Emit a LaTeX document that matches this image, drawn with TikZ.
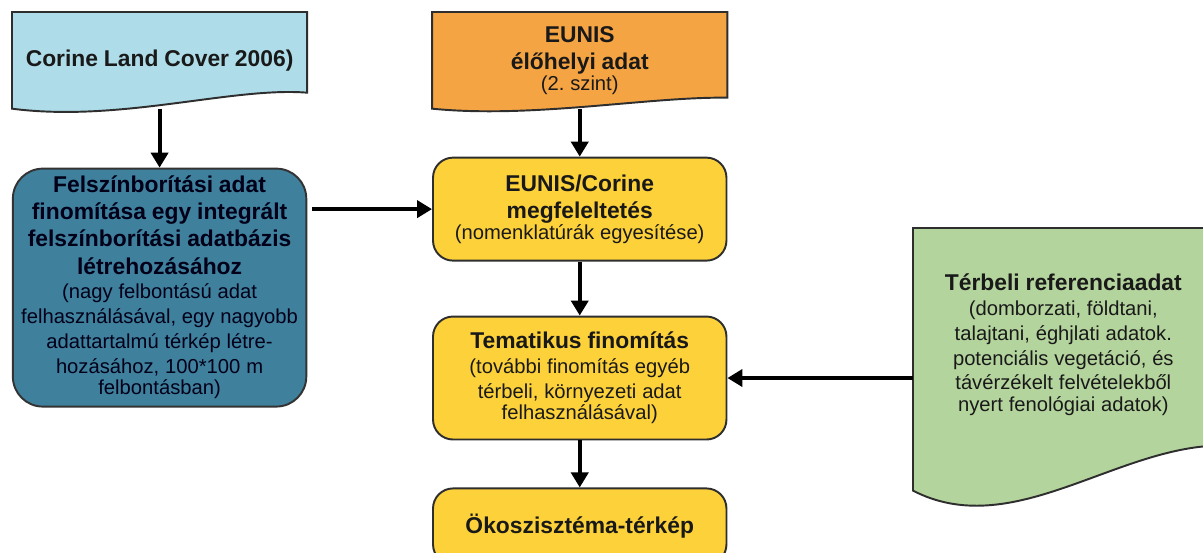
\documentclass[tikz,border=0pt]{standalone}
\usepackage{fontspec}
\setmainfont{Liberation Sans}
\usepackage{xcolor}
\usetikzlibrary{arrows.meta, positioning, calc, backgrounds}
\frenchspacing

\definecolor{clcblue}{HTML}{AEDDE9}
\definecolor{landblue}{HTML}{3F809C}
\definecolor{eunisorange}{HTML}{F5A443}
\definecolor{procyellow}{HTML}{FDD13A}
\definecolor{refgreen}{HTML}{B4D49D}
\definecolor{outline}{HTML}{2E2E2E}
\newcommand{\headfont}{\fontsize{13}{15.4}\selectfont\bfseries}
\newcommand{\subfont}{\fontsize{11.5}{14.2}\selectfont\mdseries}

\begin{document}
\begin{tikzpicture}[
    x=0.02cm, y=-0.02cm,
    datadoc/.style={rectangle, inner sep=2pt, text width=5.75cm, align=center, minimum width=5.87cm, minimum height=1.92cm, text=black!90},
    procbox/.style={rectangle, draw=outline, line width=1.1pt, fill=procyellow, rounded corners=0.4cm, text width=5.7cm, align=center, minimum width=5.87cm, inner sep=2pt, text=black!90},
    docline/.style={draw=outline, line width=1.1pt},
    arrow/.style={-{Triangle[width=0.34cm, length=0.3cm]}, line width=2.2pt}
]
\useasboundingbox (0,0) rectangle (1203,553);
\clip (0,0) rectangle (1203,553);

% Nodes
\node [datadoc, anchor=north west] (corine) at (12,12) {\headfont Corine Land Cover 2006)};
\node [datadoc, right=2.5cm of corine] (eunis) {\headfont EUNIS\\ élőhelyi adat\\ \subfont (2. szint)};
\node [procbox, fill=landblue, draw=black!80, rounded corners=0.6cm, minimum height=4.76cm, text=black!90!blue, below=1.18cm of corine] (landcover) {\headfont Felszínborítási adat\\ finomítása egy integrált\\ felszínborítási adatbázis\\ létrehozásához\\ \subfont (nagy felbontású adat\\ felhasználásával, egy nagyobb\\ adattartalmú térkép létre-\\ hozásához, 100*100 m\\ felbontásban)};
\node [procbox, minimum height=2.06cm, below=0.96cm of eunis] (match) {\headfont EUNIS/Corine\\ megfeleltetés\\ \subfont (nomenklatúrák egyesítése)};
\node [procbox, minimum height=2.46cm, below=1.08cm of match] (thematic) {\headfont Tematikus finomítás\\ \subfont (további finomítás egyéb\\ térbeli, környezeti adat\\ felhasználásával)};
\node [procbox, minimum height=1.52cm, below=0.94cm of thematic] (ecomap) {\headfont Ökoszisztéma-térkép};
\node [datadoc, anchor=north west, minimum width=6cm, minimum height=4.64cm, text width=5.8cm] (ref) at (913,228) {\headfont Térbeli referenciaadat\\ \subfont (domborzati, földtani,\\ talajtani, éghjlati adatok.\\ potenciális vegetáció, és\\ távérzékelt felvételekből\\ nyert fenológiai adatok)};

% Document shapes
\begin{scope}[on background layer]
\clip (0,0) rectangle (1203,553);
\draw [docline, fill=clcblue] (corine.south west) -- (corine.north west) -- (corine.north east) -- ($(corine.south east)+(0,-16)$) .. controls ($(corine.south east)+(-75,-22)$) and ($(corine.south west)+(108,14)$) .. (corine.south west) -- cycle;
\draw [docline, fill=eunisorange] (eunis.south west) -- (eunis.north west) -- (eunis.north east) -- ($(eunis.south east)+(0,-11)$) .. controls ($(eunis.south east)+(-80,-12)$) and ($(eunis.south west)+(100,10)$) .. (eunis.south west) -- cycle;
\draw [docline, fill=refgreen] ($(ref.south west)+(0,30)$) -- (ref.north west) -- (ref.north east) -- ($(ref.south east)+(0,-15)$) .. controls ($(ref.south east)+(-103,-10)$) and ($(ref.south west)+(97,80)$) .. ($(ref.south west)+(0,30)$) -- cycle;
\end{scope}

% Paths
\draw [arrow] (corine.south) -- (landcover);
\draw [arrow, shorten <=0.1cm] (landcover.east |- match.west) -- (match.west);
\draw [arrow] (eunis.south) -- (match);
\draw [arrow] (match) -- (thematic);
\draw [arrow] (thematic) -- (ecomap);
\draw [arrow] (ref.west |- thematic.east) -- (thematic.east);

\end{tikzpicture}
\end{document}
